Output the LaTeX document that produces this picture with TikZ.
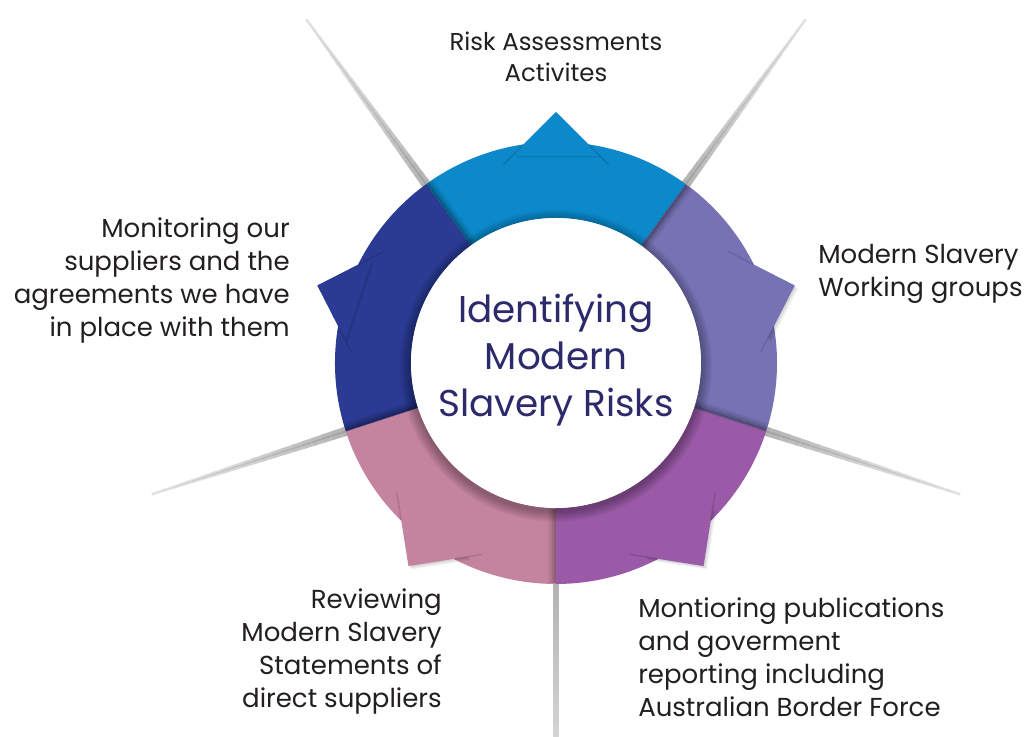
\documentclass[tikz,border=0pt]{standalone}
\usepackage{fontspec}
\setmainfont{Poppins}
\usetikzlibrary{calc}
\definecolor{cyanS}{HTML}{0C89CA}
\definecolor{blueS}{HTML}{2B3A92}
\definecolor{lpurS}{HTML}{7672B4}
\definecolor{purS}{HTML}{9A5AA7}
\definecolor{pinkS}{HTML}{C4839F}
\definecolor{txtc}{HTML}{231F20}
\definecolor{navyS}{HTML}{2D2A6C}
\newcommand\segpiece[2]{%
  \fill[#2] ({#1-36}:145) -- ({#1-36}:221) arc[start angle={#1-36}, end angle={#1+36}, radius=221]
     -- ({#1+36}:145) arc[start angle={#1+36}, end angle={#1-36}, radius=145] -- cycle;
  \foreach \d in {1,...,5}{
    \fill[black, opacity=0.035] ($(#1:251)+(\d*0.7,-\d*0.7)$) -- ($(#1:251)+({#1+135}:60)+(\d*0.7,-\d*0.7)$)
       -- ($(#1:251)+({#1+225}:60)+(\d*0.7,-\d*0.7)$) -- cycle;}
  \fill[#2] (#1:251) -- ($(#1:251)+({#1+135}:62)$) -- ($(#1:251)+({#1+225}:62)$) -- cycle;
  \draw[#2!65!black, line width=1.1, opacity=0.35, line cap=round] ($(#1:251)+({#1+135}:47)$) -- ($(#1:251)+({#1+135}:74)$);
  \draw[#2!65!black, line width=1.1, opacity=0.35, line cap=round] ($(#1:251)+({#1+225}:47)$) -- ($(#1:251)+({#1+225}:74)$);
}
\newcommand\divband[2]{%
  \begin{scope}[rotate=#1]
    \foreach \d/\o in {1/0.28,3/0.18,5/0.1,7/0.05}
      \draw[black, opacity=\o, line width=2] (146,{#2*\d}) -- (220.5,{#2*\d});
  \end{scope}}
\begin{document}
\begin{tikzpicture}[x=0.75pt,y=0.75pt,
  lbl/.style={font=\fontsize{19.5}{24.75}\selectfont, text=txtc, inner sep=0pt},
  toplbl/.style={font=\fontsize{18.3}{23.25}\selectfont, text=txtc, inner sep=0pt},
  ctr/.style={font=\fontsize{28}{35}\selectfont, text=navyS, align=center, inner sep=0pt}]
\useasboundingbox (-556,-374) rectangle (470,363);
\fill[white] (-556,-374) rectangle (470,363);
% shadow rays
\foreach \a in {54,126,198,342}{
  \foreach \i in {0,...,19}{
    \pgfmathsetmacro\ra{215+\i*10.5}
    \pgfmathsetmacro\rb{215+(\i+1)*10.5}
    \pgfmathsetmacro\lw{7-\i*0.25}
    \pgfmathsetmacro\gr{30-\i*1.3}
    \draw[black!\gr, line width=\lw] (\a:\ra) -- (\a:\rb);
    \pgfmathsetmacro\grb{\gr+8}
    \draw[black!\grb, line width=1.2] (\a:\ra) -- (\a:\rb);
  }}
\foreach \i in {0,...,15}{
  \pgfmathsetmacro\ra{215+\i*10.5}
  \pgfmathsetmacro\rb{215+(\i+1)*10.5}
  \pgfmathsetmacro\gr{30-\i*0.9}
  \draw[black!\gr, line width=4.5] (270:\ra) -- (270:\rb);
}
% segments
\segpiece{90}{cyanS}
\segpiece{18}{lpurS}
\segpiece{-54}{purS}
\segpiece{234}{pinkS}
\segpiece{162}{blueS}
% boundary bands
\divband{126}{-1}
\divband{198}{-1}
\divband{270}{-1}
\divband{54}{-1}
\divband{342}{1}
% inner shadow
\foreach \i in {1,...,10}{
  \fill[black, opacity=0.03] (0,-3) circle ({145+\i*1.1});
}
\node[circle, fill=white, minimum size=290*0.75pt, inner sep=0pt] (hub) at (0,0) {};
\node[ctr, anchor=north] (title) at (0,69) {Identifying\\Modern\\Slavery Risks};
% labels
\node[toplbl, align=center, anchor=north] (l1) at (0,331) {Risk Assessments\\Activites};
\node[lbl, align=left, anchor=north west] (l2) at (262,119) {Modern Slavery\\Working groups};
\node[lbl, align=left, anchor=north west] (l3) at (82,-234) {Montioring publications\\and goverment\\reporting including\\Australian Border Force};
\node[lbl, align=right, anchor=north east] (l4) at (-114,-225) {Reviewing\\Modern Slavery\\Statements of\\direct suppliers};
\node[lbl, align=right, anchor=north east] (l5) at (-266,146) {Monitoring our\\suppliers and the\\agreements we have\\in place with them};
\end{tikzpicture}
\end{document}
